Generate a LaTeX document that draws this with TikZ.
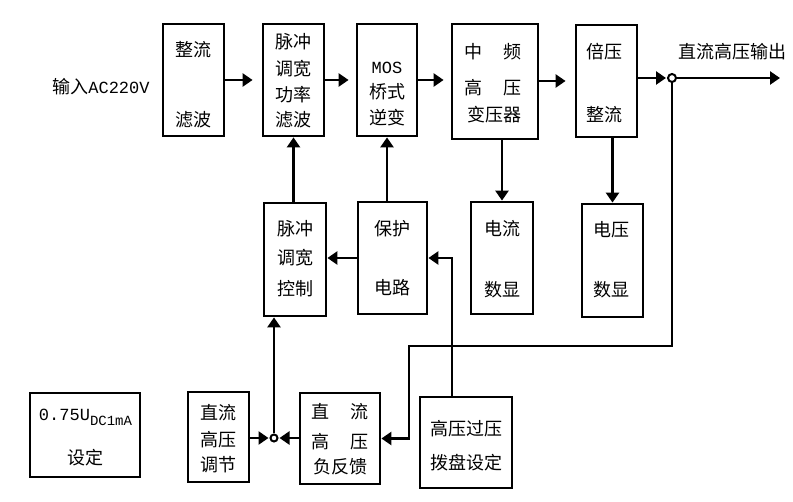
\documentclass[tikz,border=0pt]{standalone}
\usepackage{fontspec}
\setmainfont{Noto Sans CJK SC}
\newfontfamily\latin{Liberation Mono}
\usetikzlibrary{arrows.meta}
\begin{document}
\begin{tikzpicture}[x=1pt,y=-1pt,
  box/.style={draw, line width=2.8pt, inner sep=0pt},
  lbl/.style={font=\fontsize{18}{18}\selectfont, inner sep=0pt},
  arr/.style={line width=2.8pt, -{Triangle[length=10pt,width=13pt]}},
  ln/.style={line width=2.8pt},
  jn/.style={circle, draw, line width=2pt, minimum size=8pt, inner sep=0pt, fill=white}]
\useasboundingbox (0,0) rectangle (793,502);

% boxes
\node[box, minimum width=61pt, minimum height=112pt] (zl)  at (193.5,80) {};
\node[box, minimum width=61pt, minimum height=112pt] (mc1) at (293.5,80) {};
\node[box, minimum width=60pt, minimum height=112pt] (mos) at (387,80) {};
\node[box, minimum width=86pt, minimum height=115pt] (zp)  at (495,81.5) {};
\node[box, minimum width=61pt, minimum height=112pt] (by)  at (606.5,81) {};
\node[box, minimum width=62pt, minimum height=113pt] (kz)  at (295,259.5) {};
\node[box, minimum width=69pt, minimum height=112pt] (bh)  at (392.5,258) {};
\node[box, minimum width=62pt, minimum height=112pt] (dl)  at (502,258) {};
\node[box, minimum width=61pt, minimum height=113pt] (dy)  at (612.5,260.5) {};
\node[box, minimum width=110pt, minimum height=84pt] (sd)  at (85,435) {};
\node[box, minimum width=61pt, minimum height=90pt] (tj)  at (218.5,437) {};
\node[box, minimum width=80pt, minimum height=91pt] (fk)  at (340,438.5) {};
\node[box, minimum width=92pt, minimum height=91pt] (gy)  at (466,442.5) {};

% labels
\node[lbl] (tin) at (101,87) {输入{\latin\fontsize{17}{17}\selectfont AC220V}};
\node[lbl] at (193.5,50) {整流};
\node[lbl] at (193.5,120) {滤波};
\node[lbl] at (293.5,42) {脉冲};
\node[lbl] at (293.5,69) {调宽};
\node[lbl] at (293.5,95) {功率};
\node[lbl] at (293.5,120) {滤波};
\node[lbl] at (387,68) {\latin\fontsize{17}{17}\selectfont MOS};
\node[lbl] at (387,92) {桥式};
\node[lbl] at (387,118) {逆变};
\node[lbl] at (493,52) {中\hspace{22pt}频};
\node[lbl] at (493,88) {高\hspace{22pt}压};
\node[lbl] at (494,115) {变压器};
\node[lbl] at (604,52) {倍压};
\node[lbl] at (604,115) {整流};
\node[lbl] (tout) at (732,52) {直流高压输出};
\node[lbl] at (295,229) {脉冲};
\node[lbl] at (295,258) {调宽};
\node[lbl] at (295,289) {控制};
\node[lbl] at (392.5,229) {保护};
\node[lbl] at (392.5,288) {电路};
\node[lbl] at (502,229) {电流};
\node[lbl] at (502,290) {数显};
\node[lbl] at (611,230) {电压};
\node[lbl] at (611,290) {数显};
\node[lbl] at (85.5,417) {\latin\fontsize{17}{17}\selectfont 0.75U\raisebox{-5pt}{\fontsize{14}{14}\selectfont DC1mA}};
\node[lbl] at (85,458) {设定};
\node[lbl] at (218.5,413) {直流};
\node[lbl] at (218.5,440) {高压};
\node[lbl] at (218.5,465) {调节};
\node[lbl] at (340,412) {直\hspace{22pt}流};
\node[lbl] at (340,442) {高\hspace{22pt}压};
\node[lbl] at (340,467) {负反馈};
\node[lbl] at (466,429) {高压过压};
\node[lbl] at (466,463) {拨盘设定};

% junctions
\node[jn] (j1) at (672,78) {};
\node[jn, minimum size=7pt] (j2) at (274,438) {};
\coordinate (out) at (780,78);
\coordinate (f1) at (409,346);

% main chain
\draw[arr, shorten >=9pt] (zl.east) -- (mc1.west);
\draw[arr, shorten >=7pt] (mc1.east) -- (mos.west);
\draw[arr, shorten >=7pt] (mos.east) -- (mos.east -| zp.west);
\draw[arr, shorten >=9pt] (zp.east |- by.east) -- (by.east -| by.west);
\draw[arr, shorten >=1pt] (by.east |- j1) -- (j1.west);
\draw[arr] (j1.east) -- (out);

% verticals
\draw[arr] (mc1.south |- kz.north) -- (mc1.south);
\draw[arr] (mos.south |- bh.north) -- (mos.south);
\draw[arr] (dl.north |- zp.south) -- (dl.north);
\draw[arr] (dy.north |- by.south) -- (dy.north);
\draw[arr] (bh.west) -- (bh.west -| kz.east);
\draw[arr] ([xshift=-14pt]gy.north) |- (bh.east);

% feedback
\draw[arr] (j1.south) |- (f1) |- (fk.east);
\draw[arr, shorten >=1pt] (tj.east |- j2) -- (j2.west);
\draw[arr, shorten >=1pt] (fk.west |- j2) -- (j2.east);
\draw[arr] (j2.north) -- (j2.north |- kz.south);
\end{tikzpicture}
\end{document}
